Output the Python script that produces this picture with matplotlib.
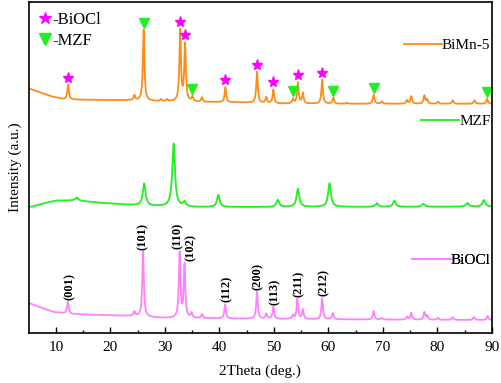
import numpy as np
import matplotlib
matplotlib.use('Agg')
import matplotlib.pyplot as plt
from matplotlib.lines import Line2D

plt.rcParams['font.family'] = ['Liberation Serif', 'DejaVu Serif']

# peak positions (2theta), heights above baseline and widths
# (intensity in arbitrary units, offsets between patterns included in the baselines)
biocl_pos = [12.2, 24.4, 26.0, 32.7, 33.6, 34.9, 36.8, 41.05, 46.9, 48.6, 49.9, 53.5, 54.3, 55.3,
             58.85, 60.8, 68.3, 69.8, 74.4, 75.2, 77.6, 78.1, 80.1, 82.8, 86.7, 89.2]
biocl_h = [12, 4.5, 65, 65, 53, 5, 4, 14, 27, 5, 12, 3.5, 20, 9.5,
           21, 6, 8.5, 1.5, 3, 7, 7.5, 4, 2, 2.5, 3, 4]
biocl_base_x = [5, 7, 9.6, 13, 20, 24, 30, 45, 60, 75, 90]
biocl_base_y = [30, 26, 21, 19, 17.7, 17, 15, 14.3, 13.7, 13.3, 13]

mzf_pos = [13.8, 26.2, 31.6, 33.6, 39.8, 50.7, 54.4, 60.2, 68.9, 72.1, 77.4, 85.5, 88.5]
mzf_h = [3, 22, 63, 4.5, 12, 7, 18, 23.5, 3.5, 6, 3, 3.5, 6.5]
mzf_base_x = [5, 8, 10, 14, 18, 24, 28, 35, 45, 60, 75, 90]
mzf_base_y = [125.7, 130, 132.5, 132.5, 130.3, 128, 127, 126, 126, 126.2, 126.2, 126.5]

bimn_pos = [12.25, 24.4, 26.1, 29.3, 30.4, 32.8, 33.7, 35.05, 36.8, 41.1, 46.9, 48.6, 49.9, 53.5,
            54.4, 55.3, 58.85, 60.9, 63.4, 68.3, 69.8, 74.4, 75.2, 77.6, 78.1, 80.1, 82.8, 86.8, 89.1]
bimn_h = [14.5, 5, 71, 2, 2, 71, 57, 5, 4.5, 15, 31, 6, 14, 4.5,
          21, 10.5, 24, 6, 1, 9, 2.5, 3.5, 7.5, 8, 4, 2, 3.5, 3.5, 5]
bimn_base_x = [5, 7, 9, 11.3, 13, 24, 30, 45, 50, 60, 90]
bimn_base_y = [244.7, 241, 237, 234, 233.5, 232.7, 231.5, 230.5, 229.5, 229.3, 229.3]

hkl_labels = ['(001)', '(101)', '(110)', '(102)', '(112)', '(200)', '(113)', '(211)', '(212)']
hkl_pos = [12.2, 26.0, 32.7, 33.6, 41.05, 46.9, 49.9, 54.3, 58.85]
hkl_text_x = [12.6, 26.0, 32.3, 34.7, 41.4, 47.1, 50.2, 54.5, 59.1]

star_pos = [12.25, 32.8, 33.7, 41.1, 46.9, 49.9, 54.4, 58.85]
tri_pos = [26.1, 35.05, 53.5, 60.9, 68.3, 89.1]

x = np.linspace(5, 90, 6000)


def pattern(pos, h, bx, by, w):
    y = np.interp(x, bx, by)
    for p, a in zip(pos, h):
        y += a / (1 + ((x - p) / w) ** 2)
    return y


y_biocl = pattern(biocl_pos, biocl_h, biocl_base_x, biocl_base_y, 0.17)
y_mzf = pattern(mzf_pos, mzf_h, mzf_base_x, mzf_base_y, 0.3)
y_bimn = pattern(bimn_pos, bimn_h, bimn_base_x, bimn_base_y, 0.17)

fig = plt.figure(figsize=(5.02, 3.83), dpi=100)
ax = fig.add_axes([0.057, 0.1305, 0.923, 0.864])

c_biocl = '#ff80ff'
c_mzf = '#22ee22'
c_bimn = '#ff8c1a'

l1, = ax.plot(x, y_biocl, color=c_biocl, lw=1.3)
l2, = ax.plot(x, y_mzf, color=c_mzf, lw=1.3)
l3, = ax.plot(x, y_bimn, color=c_bimn, lw=1.3)


def peak_top(yc, p):
    m = (x > p - 0.3) & (x < p + 0.3)
    return yc[m].max()


for lab, p, tx in zip(hkl_labels, hkl_pos, hkl_text_x):
    ax.text(tx, peak_top(y_biocl, p) + 2, lab, rotation=90, ha='center', va='bottom',
            fontsize=9, fontweight='bold')

ax.plot(star_pos, [peak_top(y_bimn, p) + 7 for p in star_pos], ls='none', marker='*',
        ms=8, color='#ff00ff', mec='#ff00ff')
ax.plot(tri_pos, [peak_top(y_bimn, p) + 7 for p in tri_pos], ls='none', marker='v',
        ms=6.5, color='#22ee22', mec='#22ee22')

# marker legend, top left
h_star = Line2D([], [], ls='none', marker='*', ms=9, color='#ff00ff')
h_tri = Line2D([], [], ls='none', marker='v', ms=8, color='#22ee22')
leg0 = ax.legend([h_star, h_tri], ['-BiOCl', '-MZF'], loc='upper left', frameon=False,
                 fontsize=12, handlelength=0.8, handletextpad=0.05, labelspacing=0.3,
                 borderaxespad=0.2, bbox_to_anchor=(0.0, 1.0))
ax.add_artist(leg0)

# one label for each pattern on the right
for line, name, yy in [(l3, 'BiMn-5', 0.87), (l2, 'MZF', 0.64), (l1, 'BiOCl', 0.22)]:
    lg = ax.legend([line], [name], loc='center right', bbox_to_anchor=(1.0, yy), frameon=False,
                   fontsize=11, handlelength=2.5, handletextpad=0.0, borderaxespad=0.0,
                   borderpad=0.1)
    ax.add_artist(lg)

ax.set_xlim(5, 90)
ax.set_ylim(0, 331)
ax.set_yticks([])
ax.set_xticks(range(10, 91, 10))
ax.set_xticks(range(15, 90, 10), minor=True)
ax.tick_params(axis='x', direction='in', length=4, width=1, labelsize=11, pad=6)
ax.tick_params(axis='x', which='minor', direction='in', length=2.5, width=1)
for s in ax.spines.values():
    s.set_linewidth(1.2)
ax.set_xlabel('2Theta (deg.)', fontsize=11, labelpad=7)
ax.set_ylabel('Intensity (a.u.)', fontsize=11, labelpad=5)

fig.savefig('out.png', dpi=100)
